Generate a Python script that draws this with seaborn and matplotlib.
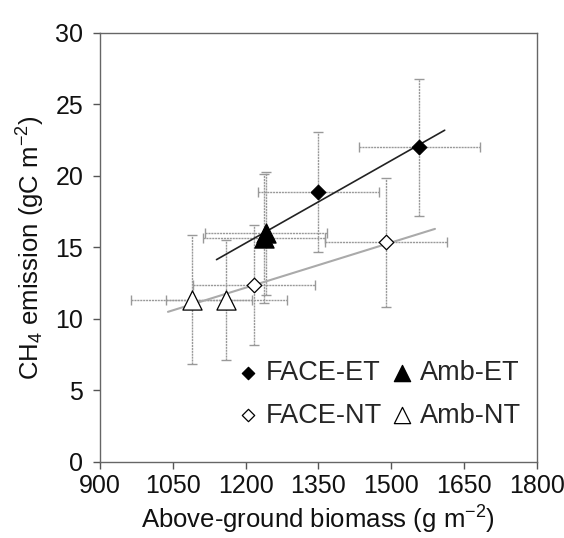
import matplotlib
matplotlib.use("Agg")
import matplotlib.pyplot as plt
import seaborn as sns
import pandas as pd

# Data
face_et_x = [1350, 1558]
face_et_y = [18.85, 22.0]
face_et_yerr = [4.2, 4.8]

amb_et_x = [1238, 1242]
amb_et_y = [15.65, 16.0]
amb_et_yerr = [4.5, 4.3]

face_nt_x = [1217, 1489]
face_nt_y = [12.35, 15.35]
face_nt_yerr = [4.2, 4.5]

amb_nt_x = [1089, 1160]
amb_nt_y = [11.35, 11.35]
amb_nt_yerr = [4.5, 4.2]

biomass_err = 125

# regression lines (endpoints as drawn)
et_fit_x = [1140, 1610]
et_fit_y = [14.15, 23.2]
nt_fit_x = [1040, 1590]
nt_fit_y = [10.5, 16.3]

x_ticks = [900, 1050, 1200, 1350, 1500, 1650, 1800]
y_ticks = [0, 5, 10, 15, 20, 25, 30]

sns.set_style("ticks")
plt.rcParams['font.family'] = ['Liberation Sans', 'DejaVu Sans']
plt.rcParams['mathtext.fontset'] = 'custom'
plt.rcParams['mathtext.rm'] = 'Liberation Sans'
plt.rcParams['mathtext.it'] = 'Liberation Sans:italic'

fig = plt.figure(figsize=(5.64, 5.38), dpi=100)
ax = fig.add_axes([0.1773, 0.1413, 0.7747, 0.7974])

groups = [
    ("FACE-ET", face_et_x, face_et_y, face_et_yerr, "D", "black", 55),
    ("Amb-ET", amb_et_x, amb_et_y, amb_et_yerr, "^", "black", 190),
    ("FACE-NT", face_nt_x, face_nt_y, face_nt_yerr, "D", "white", 55),
    ("Amb-NT", amb_nt_x, amb_nt_y, amb_nt_yerr, "^", "white", 190),
]

# error bars first
for name, xs, ys, yerr, mk, fc, s in groups:
    eb = ax.errorbar(xs, ys, xerr=biomass_err, yerr=yerr, fmt="none",
                     ecolor="0.6", elinewidth=1.0, capsize=3.3, capthick=1.0, zorder=1)
    for coll in eb[2]:
        coll.set_linestyle((0, (1.5, 0.6)))

# regression lines
sns.lineplot(x=et_fit_x, y=et_fit_y, color="#222222", linewidth=1.2, ax=ax, zorder=2)
sns.lineplot(x=nt_fit_x, y=nt_fit_y, color="#aaaaaa", linewidth=1.5, ax=ax, zorder=2)

# markers
for name, xs, ys, yerr, mk, fc, s in groups:
    df = pd.DataFrame({"x": xs, "y": ys})
    sns.scatterplot(data=df, x="x", y="y", marker=mk, s=s, color=fc,
                    edgecolor="black", linewidth=0.9, ax=ax, zorder=3, label=name)

handles, labels = ax.get_legend_handles_labels()
order = [labels.index(n) for n in ["FACE-ET", "FACE-NT", "Amb-ET", "Amb-NT"]]
ax.legend([handles[i] for i in order], [labels[i] for i in order], ncol=2,
          loc="lower right", frameon=False, fontsize=19.5, markerscale=0.85,
          handletextpad=0.15, columnspacing=0.25, labelspacing=0.6,
          handlelength=1.0, borderaxespad=0.2, bbox_to_anchor=(1.0, 0.04))

ax.set_xlim(900, 1800)
ax.set_ylim(0, 30)
ax.set_xticks(x_ticks)
ax.set_yticks(y_ticks)
ax.tick_params(labelsize=18, length=5, width=1, color="#555555", labelcolor="#111111")
ax.tick_params(axis="y", pad=7)
for sp in ax.spines.values():
    sp.set_color("#666666")
    sp.set_linewidth(1)
ax.set_xlabel("Above-ground biomass (g m$^{-2}$)", fontsize=18.5, color="#111111", labelpad=4)
ax.set_ylabel("CH$_4$ emission (gC m$^{-2}$)", fontsize=18.5, color="#111111", labelpad=6)

fig.savefig("out.png", dpi=100)
